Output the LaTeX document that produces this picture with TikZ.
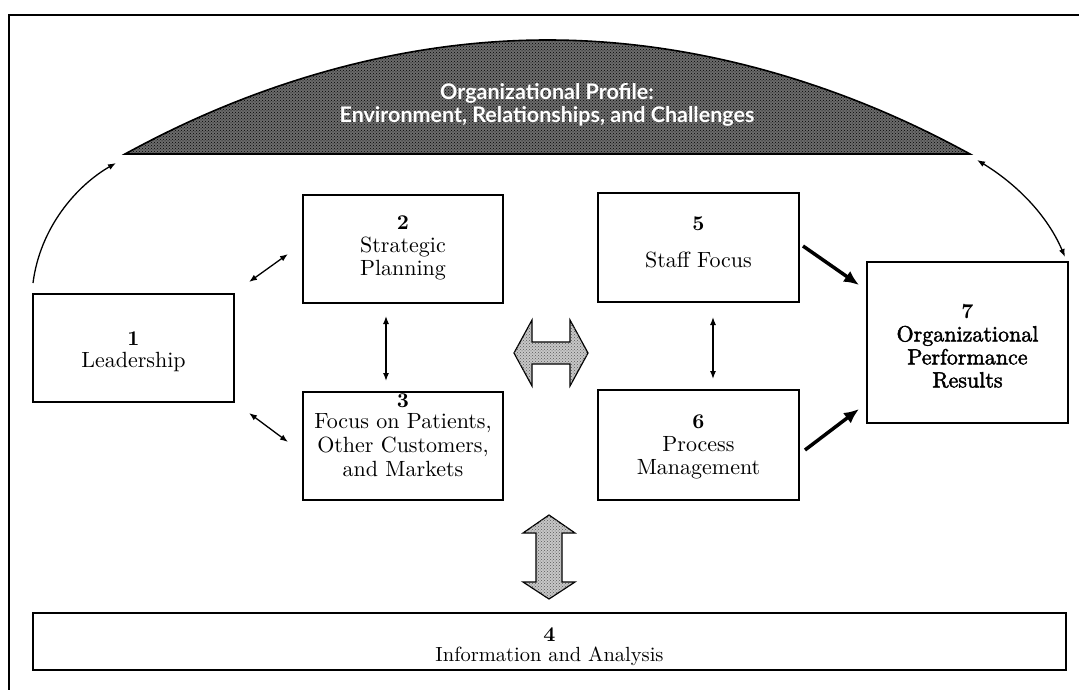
\documentclass[tikz,border=0pt]{standalone}
\usepackage{fontspec}
\newfontfamily\domefont{Lato}
\newfontfamily\boxrm{lmroman10-regular.otf}[BoldFont=lmroman10-bold.otf]
\newfontfamily\boxheavy{lmroman10-regular.otf}[FakeBold=2]
\newcommand\boxnum[1]{{\boxrm\fontsize{21}{23}\selectfont\bfseries #1}}
\usetikzlibrary{arrows.meta,patterns}
\begin{document}
\begin{tikzpicture}[x=1pt,y=-1pt,
  box/.style={draw,line width=1.6pt,inner sep=0pt},
  boxtext/.style={anchor=north,align=center,inner sep=0pt,font=\boxrm\fontsize{22}{23}\selectfont},
  link/.style={line width=1.3pt,{Latex[length=8pt,width=6pt]}-{Latex[length=8pt,width=6pt]}},
  uplink/.style={line width=1.3pt,-{Latex[length=8pt,width=6pt]}},
  boldarrow/.style={line width=3.5pt,-{Latex[length=15pt,width=13pt]}},
  fatarrow/.style={draw,line width=1.2pt,fill=black!22,postaction={pattern=crosshatch dots,pattern color=black!65}},
  dome/.style={draw,line width=1.6pt,fill=black!58,postaction={pattern=crosshatch dots,pattern color=black}},
  domelabel/.style={align=center,inner sep=0pt,text=white,font=\domefont\bfseries\fontsize{21.5}{22.5}\selectfont},
]
\useasboundingbox (0,0) rectangle (1079,690);

% outer frame
\draw[line width=1.8pt] (9,690) -- (9,15) -- (1079,15);

% organizational profile dome
\coordinate (dl) at (125,154);
\coordinate (dt) at (547.5,40);
\coordinate (dr) at (970,154);
\filldraw[dome] (dl) parabola bend (dt) (dr) -- cycle;
\node[domelabel] (prof) at (547,105) {Organizational Profile:\\Environment, Relationships, and Challenges};

% category boxes
\node[box,minimum width=201pt,minimum height=108pt] (b1) at (133.5,348) {};
\node[box,minimum width=200pt,minimum height=108pt] (b2) at (403,249) {};
\node[box,minimum width=200pt,minimum height=108pt] (b3) at (403,446) {};
\node[box,minimum width=201pt,minimum height=109pt] (b5) at (698.5,247.5) {};
\node[box,minimum width=201pt,minimum height=110pt] (b6) at (698.5,445) {};
\node[box,minimum width=201pt,minimum height=161pt] (b7) at (967.5,342.5) {};
\node[box,minimum width=1033pt,minimum height=57pt] (b4) at (549.5,641.5) {};

% box labels
\node[boxtext] (t1) at (133.5,332) {\boxnum{1}\\[-1.5pt]Leadership};
\node[boxtext] (t2) at (403,216) {\boxnum{2}\\Strategic\\Planning};
\node[boxtext] (t3) at (403,394) {\boxnum{3}\\[-2.5pt]Focus on Patients,\\[1pt]Other Customers,\\[1pt]and Markets};
\node[boxtext] (t5) at (698.5,217) {\boxnum{5}\\[13.5pt]Staff Focus};
\node[boxtext] (t6) at (698.5,415) {\boxnum{6}\\Process\\Management};
\node[boxtext,font=\boxheavy\fontsize{22}{23}\selectfont] (t7) at (967.5,304) {\boxnum{7}\\Organizational\\Performance\\Results};
\node[boxtext,font=\boxrm\fontsize{20.5}{23}\selectfont] (t4) at (549.5,628) {\boxnum{4}\\[-3.5pt]Information and Analysis};

% connector end points
\coordinate (aL0) at (33,283);   \coordinate (aL1) at (116,163);
\coordinate (aR0) at (977,160);  \coordinate (aR1) at (1065,257);
\coordinate (a12a) at (249,282); \coordinate (a12b) at (288,254);
\coordinate (a13a) at (249,413); \coordinate (a13b) at (288,442);
\coordinate (a23a) at (386,316); \coordinate (a23b) at (386,381);
\coordinate (a56a) at (713,317); \coordinate (a56b) at (713,379);
\coordinate (a57a) at (803,246); \coordinate (a57b) at (859,285);
\coordinate (a67a) at (805,450); \coordinate (a67b) at (859,409);

% links to the profile
\draw[uplink] (aL0) .. controls (40,228) and (76,186) .. (aL1);
\draw[link] (aR0) .. controls (1010,180) and (1045,210) .. (aR1);

% links between categories
\draw[link] (a12a) -- (a12b);
\draw[link] (a13a) -- (a13b);
\draw[link] (a23a) -- (a23b);
\draw[link] (a56a) -- (a56b);
\draw[boldarrow] (a57a) -- (a57b);
\draw[boldarrow] (a67a) -- (a67b);

% wide two-way arrows
\path[fatarrow] (514,353) -- (532,320) -- (532,342) -- (570,342) -- (570,320)
  -- (588,353) -- (570,386) -- (570,364) -- (532,364) -- (532,386) -- cycle;
\path[fatarrow] (549,515) -- (575,533) -- (562,533) -- (562,582) -- (575,582)
  -- (549,599) -- (523,582) -- (536,582) -- (536,533) -- (523,533) -- cycle;
\end{tikzpicture}
\end{document}
